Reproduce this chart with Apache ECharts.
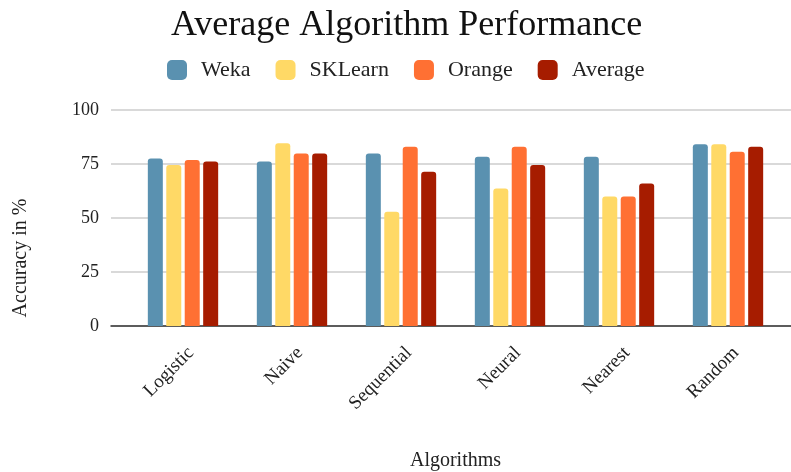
<!DOCTYPE html>
<html>
<head>
<meta charset="utf-8">
<script src="https://cdn.jsdelivr.net/npm/echarts@6/dist/echarts.min.js"></script>
<style>html,body{margin:0;padding:0;background:#fff}#c{width:791px;height:472px}</style>
</head>
<body>
<div id="c"></div>
<script>
var categories = ['Logistic', 'Naive', 'Sequential', 'Neural', 'Nearest', 'Random'];
var weka = [77.6, 76.1, 79.9, 78.4, 78.4, 84.1];
var sklearn = [74.5, 84.6, 52.9, 63.7, 59.9, 84.1];
var orange = [76.9, 79.9, 83.0, 83.0, 59.9, 80.7];
var average = [76.1, 79.9, 71.4, 74.5, 66.0, 83.0];
var seriesNames = ['Weka', 'SKLearn', 'Orange', 'Average'];
var colors = ['#5a91b0', '#ffd966', '#ff7033', '#a61c00'];
var yTicks = [0, 25, 50, 75, 100];

var FONT = '"Liberation Serif", "DejaVu Serif", serif';
var chart = echarts.init(document.getElementById('c'));
var data = [weka, sklearn, orange, average];
var series = seriesNames.map(function (n, i) {
  return {
    name: n, type: 'bar', xAxisIndex: 1, yAxisIndex: 1,
    data: data[i], barWidth: 15, barGap: '23%',
    itemStyle: { color: colors[i], borderRadius: [3, 3, 0, 0] }
  };
});
chart.setOption({
  animation: false,
  color: colors,
  title: {
    text: 'Average Algorithm Performance', left: 166, top: 3,
    textStyle: { fontFamily: FONT, fontSize: 36, fontWeight: 'normal', color: '#111' }
  },
  legend: {
    data: seriesNames, left: 162, top: 54, itemWidth: 20, itemHeight: 20, itemGap: 25,
    icon: 'roundRect',
    textStyle: { fontFamily: FONT, fontSize: 22, color: '#222', padding: [0, 0, 0, 9] }
  },
  grid: [
    { left: 111, right: 0, top: 110, bottom: 146, outerBoundsMode: 'none' },
    { left: 128.5, right: 8.5, top: 110, bottom: 146, outerBoundsMode: 'none' },
    { left: 136.5, right: 0.5, top: 110, bottom: 146, outerBoundsMode: 'none' }
  ],
  xAxis: [
    { gridIndex: 0, type: 'value', min: 0, max: 1, show: true,
      axisLine: { show: true, onZero: false, lineStyle: { color: '#333', width: 1.5 } },
      axisTick: { show: false }, axisLabel: { show: false }, splitLine: { show: false } },
    { gridIndex: 1, type: 'category', data: categories,
      axisLine: { show: false }, axisTick: { show: false }, axisLabel: { show: false },
      name: 'Algorithms', nameLocation: 'middle', nameGap: 125,
      nameTextStyle: { fontFamily: FONT, fontSize: 20, color: '#222' } },
    { gridIndex: 2, type: 'category', data: categories,
      axisLine: { show: false }, axisTick: { show: false },
      axisLabel: { rotate: 45, margin: 24, fontFamily: FONT, fontSize: 19, color: '#222' } }
  ],
  yAxis: [
    { gridIndex: 0, type: 'value', min: 0, max: 100, interval: 25,
      axisLine: { show: false }, axisTick: { show: false },
      axisLabel: { margin: 12, fontFamily: FONT, fontSize: 18, color: '#222',
        formatter: function (v) { return yTicks.indexOf(v) >= 0 ? String(v) : ''; } },
      splitLine: { lineStyle: { color: '#cccccc', width: 1.5 } } },
    { gridIndex: 1, type: 'value', min: 0, max: 100, interval: 25, show: false,
      splitLine: { show: false } },
    { gridIndex: 2, type: 'value', min: 0, max: 100, interval: 25, show: false,
      splitLine: { show: false } }
  ],
  graphic: [{
    type: 'text', x: 21, y: 258, rotation: Math.PI / 2,
    style: { text: 'Accuracy in %', font: '20px ' + FONT, fill: '#222',
      textAlign: 'center', textVerticalAlign: 'middle' }
  }],
  series: series
});
</script>
</body>
</html>
